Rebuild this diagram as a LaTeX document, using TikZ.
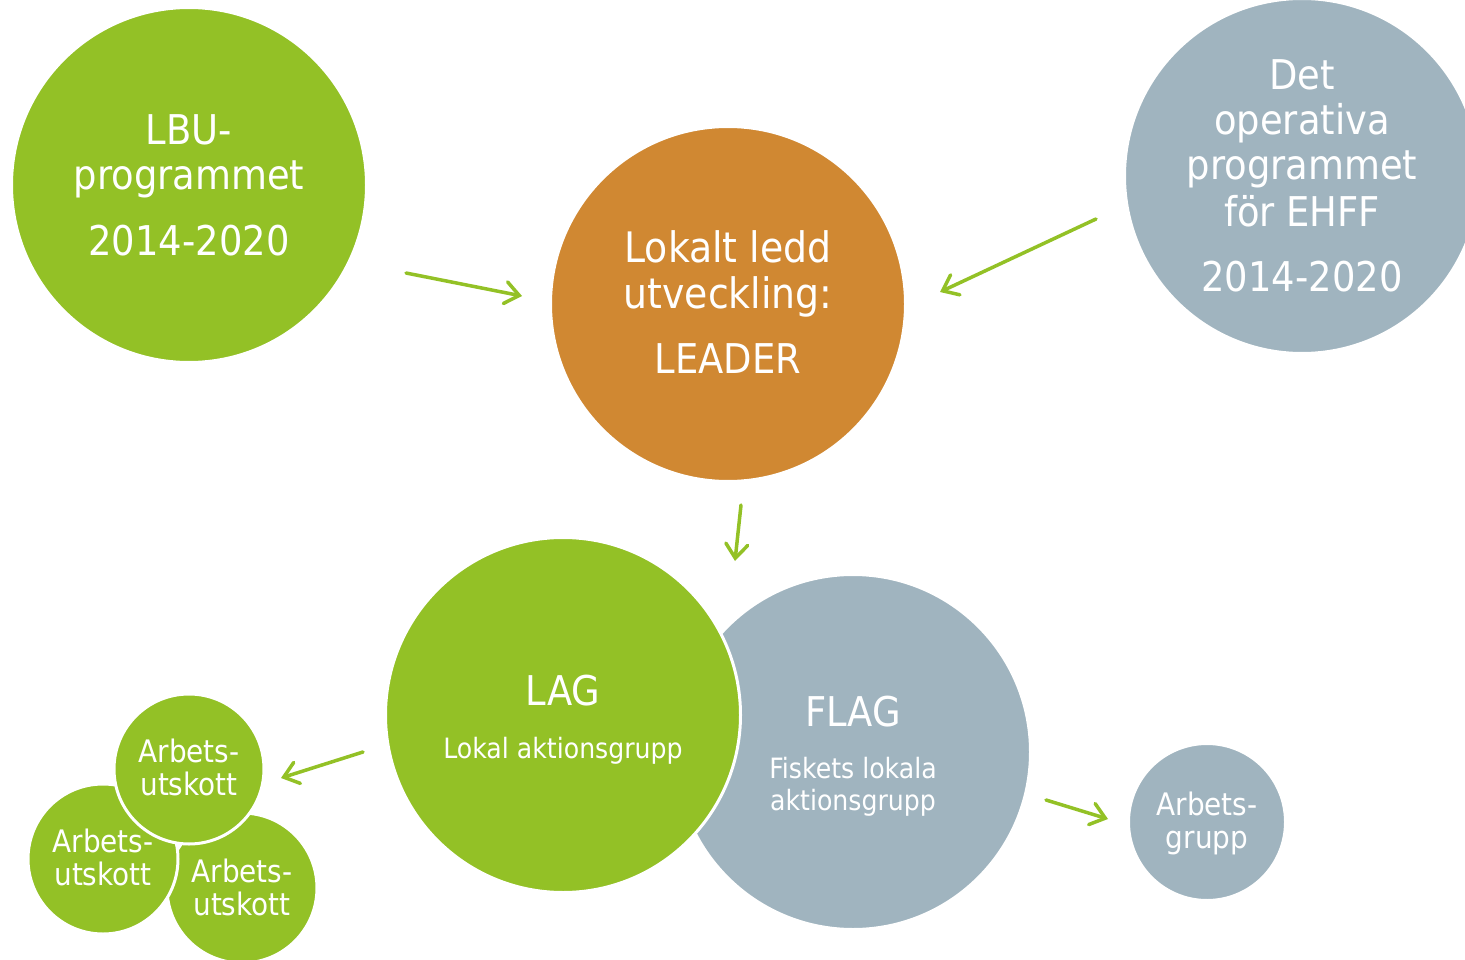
\documentclass[tikz,border=0pt]{standalone}
\usepackage{fontspec}
\setmainfont{DejaVu Sans}[FakeStretch=0.9]
\usetikzlibrary{arrows.meta}
\definecolor{cgreen}{HTML}{93C126}
\definecolor{corange}{HTML}{D08832}
\definecolor{cgray}{HTML}{A0B4BF}
\tikzset{
  bub/.style={circle, draw=white, line width=3pt, inner sep=0pt},
  bigc/.style={bub, minimum size=355pt},
  smallc/.style={bub, minimum size=150pt},
  lbl/.style={text=white, anchor=base, inner sep=0pt},
  fbig/.style={lbl, font=\fontsize{41}{49}\selectfont},
  fbigo/.style={lbl, font=\fontsize{42}{49}\selectfont},
  fmid/.style={lbl, font=\fontsize{28}{32}\selectfont},
  fsmall/.style={lbl, font=\fontsize{31}{36}\selectfont},
  arr/.style={draw=cgreen, line width=3.5pt, line cap=round, -{Straight Barb[length=14pt,width=22pt,line cap=round]}}
}
\begin{document}
\begin{tikzpicture}[x=1pt,y=-1pt]
\useasboundingbox (0,0) rectangle (1465,960);
% big circles
\node[bigc, fill=cgreen] (lbu) at (189,185) {};
\node[bigc, fill=corange] (leader) at (728,304) {};
\node[bigc, fill=cgray] (ehff) at (1302,176) {};
\node[bigc, fill=cgray] (flag) at (853,752) {};
\node[bigc, fill=cgreen] (lag) at (563,715) {};
% small circles
\node[smallc, fill=cgreen] (au3) at (242,888) {};
\node[smallc, fill=cgreen] (au2) at (103,859) {};
\node[smallc, fill=cgreen] (au1) at (189,769) {};
\node[bub, minimum size=157pt, fill=cgray] (ag) at (1207,822) {};
% texts
\node[fbig] (lbu1) at (189,145) {LBU-};
\node[fbig] (lbu2) at (189,190) {programmet};
\node[fbig] (lbu3) at (189,255) {2014-2020};
\node[fbigo] (le1) at (728,263) {Lokalt ledd};
\node[fbigo] (le2) at (728,308) {utveckling:};
\node[fbig] (le3) at (728,373) {LEADER};
\node[fbig] (eh1) at (1302,90) {Det};
\node[fbig] (eh2) at (1302,135) {operativa};
\node[fbig] (eh3) at (1302,180) {programmet};
\node[fbig] (eh4) at (1302,227) {för EHFF};
\node[fbig] (eh5) at (1302,291) {2014-2020};
\node[fbig] (lag1) at (563,705) {LAG};
\node[fmid] (lag2) at (563,758) {Lokal aktionsgrupp};
\node[fbig] (fl1) at (853,726) {FLAG};
\node[fmid] (fl2) at (853,778) {Fiskets lokala};
\node[fmid] (fl3) at (853,810) {aktionsgrupp};
\node[fsmall] (au1a) at (189,762) {Arbets-};
\node[fsmall] (au1b) at (189,795) {utskott};
\node[fsmall] (au2a) at (103,852) {Arbets-};
\node[fsmall] (au2b) at (103,885) {utskott};
\node[fsmall] (au3a) at (242,882) {Arbets-};
\node[fsmall] (au3b) at (242,915) {utskott};
\node[fsmall] (aga) at (1207,815) {Arbets-};
\node[fsmall] (agb) at (1207,848) {grupp};
% arrows
\coordinate (a1s) at (406,273); \coordinate (a1e) at (522,296);
\coordinate (a2s) at (1096,219); \coordinate (a2e) at (940,292);
\coordinate (a3s) at (741,505); \coordinate (a3e) at (735,561);
\coordinate (a4s) at (363,752); \coordinate (a4e) at (281,778);
\coordinate (a5s) at (1046,800); \coordinate (a5e) at (1108,819);
\draw[arr] (a1s) -- (a1e);
\draw[arr] (a2s) -- (a2e);
\draw[arr] (a3s) -- (a3e);
\draw[arr] (a4s) -- (a4e);
\draw[arr] (a5s) -- (a5e);
\end{tikzpicture}
\end{document}
